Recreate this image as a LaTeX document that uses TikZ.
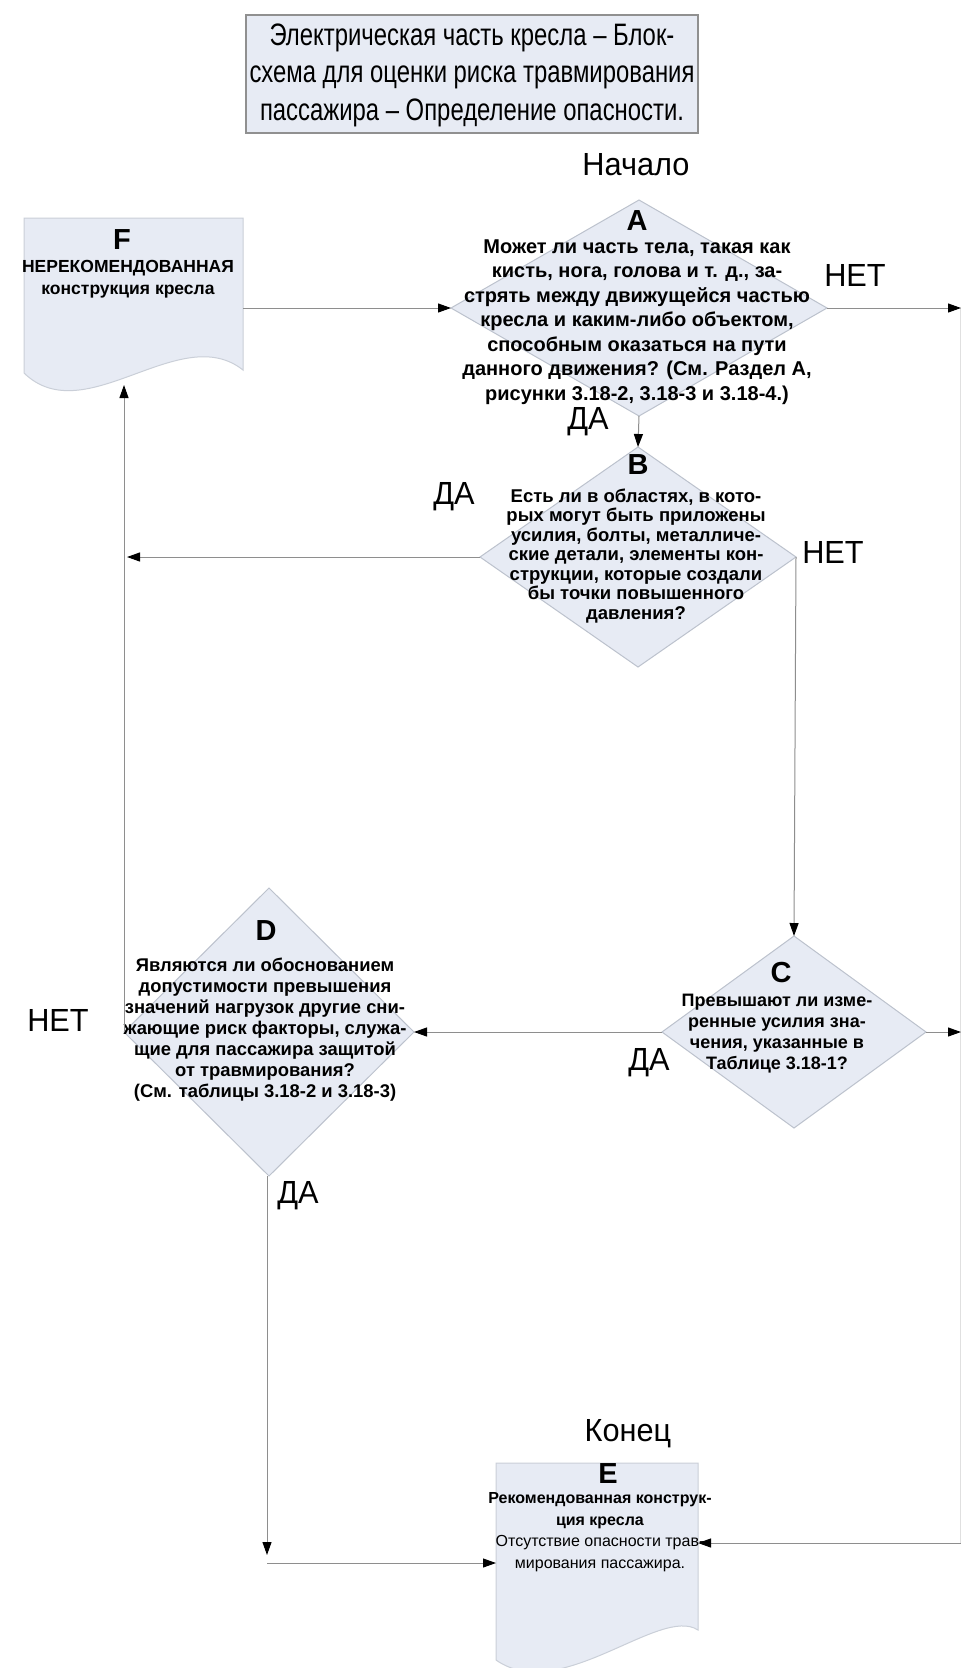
\documentclass[tikz,border=0pt]{standalone}
\usepackage{fontspec}
\setmainfont{Liberation Sans}
\newfontfamily\narrowfont[FakeStretch=0.77]{Liberation Sans}
\newfontfamily\labfont[FakeStretch=0.96]{Liberation Sans}
\usetikzlibrary{shapes.geometric,arrows.meta}
\definecolor{boxfill}{HTML}{E7EBF4}
\definecolor{diaedge}{HTML}{BCC2CD}
\definecolor{linegray}{HTML}{8E8E8E}
\definecolor{docedge}{HTML}{CACFD8}
\definecolor{titleedge}{HTML}{909090}
\definecolor{faintgray}{HTML}{E0E0E0}
\begin{document}
\begin{tikzpicture}[x=1pt,y=-1pt,
  conn/.style={draw=linegray, line width=1pt, -{Triangle[length=13pt,width=9pt,color=black]}},
  faint/.style={draw=faintgray, line width=1pt},
  dia/.style={diamond, draw=diaedge, fill=boxfill, line width=1pt, inner sep=0pt, outer sep=0pt},
  docbox/.style={inner sep=0pt, outer sep=0pt, anchor=north west},
  docshape/.style={fill=boxfill, draw=docedge, line width=1pt},
  lab/.style={font=\labfont\fontsize{32}{36}\selectfont, inner sep=0pt},
  letter/.style={font=\bfseries\fontsize{29}{32}\selectfont, inner sep=0pt},
  qtext/.style={align=center, inner sep=0pt},
]
\fill[white] (0,0) rectangle (961,1668);
\useasboundingbox (0,0) rectangle (961,1668);

% title
\node[draw=titleedge, fill=boxfill, line width=1.2pt, minimum width=452pt, minimum height=118pt, inner sep=0pt] (titlebox) at (472,74) {};
\node[qtext, font=\narrowfont\fontsize{31}{37.5}\selectfont] (title) at (472,75)
  {Электрическая часть кресла – Блок-\\схема для оценки риска травмирования\\пассажира – Определение опасности.};

% document shapes
\node[docbox, minimum width=219pt, minimum height=155pt] (F) at (24,218) {};
\fill[docshape] (24,218) -- (243,218) -- (243,370) .. controls (180,320) and (85,432) .. (24,373) -- cycle;
\node[docbox, minimum width=202pt, minimum height=187pt] (E) at (496,1463) {};
\fill[docshape] (496,1463) -- (698,1463) -- (698,1630) .. controls (660,1605) and (560,1705) .. (496,1660) -- cycle;

% diamonds
\node[dia, minimum width=376pt, minimum height=216pt] (A) at (639,308) {};
\node[dia, minimum width=316pt, minimum height=220pt] (B) at (638,557) {};
\node[dia, minimum width=264pt, minimum height=192pt] (C) at (794,1032) {};
\node[dia, minimum width=290pt, minimum height=288pt] (D) at (269,1032) {};

% letters
\node[letter] (lA) at (637,221) {A};
\node[letter] (lB) at (638,465) {B};
\node[letter] (lC) at (781,973) {C};
\node[letter] (lD) at (266,931) {D};
\node[letter] (lE) at (608,1474) {E};
\node[letter] (lF) at (122,240) {F};

% texts
\node[qtext, font=\bfseries\fontsize{20}{24.5}\selectfont] (tA) at (637,322)
  {Может ли часть тела, такая как\\кисть, нога, голова и т. д., за-\\стрять между движущейся частью\\кресла и каким-либо объектом,\\способным оказаться на пути\\данного движения? (См. Раздел А,\\рисунки 3.18-2, 3.18-3 и 3.18-4.)};
\node[qtext, font=\bfseries\fontsize{18.5}{19.5}\selectfont] (tB) at (636,556)
  {Есть ли в областях, в кото-\\рых могут быть приложены\\усилия, болты, металличе-\\ские детали, элементы кон-\\струкции, которые создали\\бы точки повышенного\\давления?};
\node[qtext, font=\bfseries\fontsize{18}{21}\selectfont] (tC) at (777,1034)
  {Превышают ли изме-\\ренные усилия зна-\\чения, указанные в\\Таблице 3.18-1?};
\node[qtext, font=\bfseries\fontsize{18.4}{21}\selectfont] (tD) at (265,1030)
  {Являются ли обоснованием\\допустимости превышения\\значений нагрузок другие сни-\\жающие риск факторы, служа-\\щие для пассажира защитой\\от травмирования?\\(См. таблицы 3.18-2 и 3.18-3)};
\node[qtext, font=\bfseries\fontsize{17.5}{22}\selectfont] (tF) at (128,279)
  {НЕРЕКОМЕНДОВАННАЯ\\конструкция кресла};
\node[qtext, font=\fontsize{16}{21.5}\selectfont] (tE) at (600,1532)
  {\textbf{Рекомендованная конструк-}\\\textbf{ция кресла}\\Отсутствие опасности трав-\\мирования пассажира.};

% labels
\node[lab] (start) at (636,165) {Начало};
\node[lab] (fin) at (628,1434) {Конец};
\node[lab] (noA) at (855,275) {НЕТ};
\node[lab] (yesA) at (588,422) {ДА};
\node[lab] (yesB) at (454,497) {ДА};
\node[lab] (noB) at (833,552) {НЕТ};
\node[lab] (yesC) at (649,1063) {ДА};
\node[lab] (noD) at (58,1020) {НЕТ};
\node[lab] (yesD) at (298,1196) {ДА};

% connectors
\coordinate (rA) at (961,308);
\coordinate (rC) at (961,1032);
\coordinate (rE) at (961,1543);
\coordinate (bL) at (127,557);
\coordinate (fIn) at (124,385);
\coordinate (dDown) at (267,1555);
\coordinate (dCorner) at (267,1563);
\draw[faint] (960,308) -- (960,1543);
\draw[conn] (A.west -| F.east) -- (A.west);
\draw[conn] (A.east) -- (rA);
\draw[conn] (A.south) -- (B.north);
\draw[conn] (B.west) -- (bL);
\draw[conn] (D.west) -- (D.west |- fIn);
\draw[conn] (B.east) -- (C.north);
\draw[conn] (C.west) -- (D.east);
\draw[conn] (C.east) -- (rC);
\draw[conn] (D.south -| dDown) -- (dDown);
\draw[conn] (dCorner) -- (dCorner -| E.west);
\draw[conn] (rE) -- (rE -| E.east);
\end{tikzpicture}
\end{document}
